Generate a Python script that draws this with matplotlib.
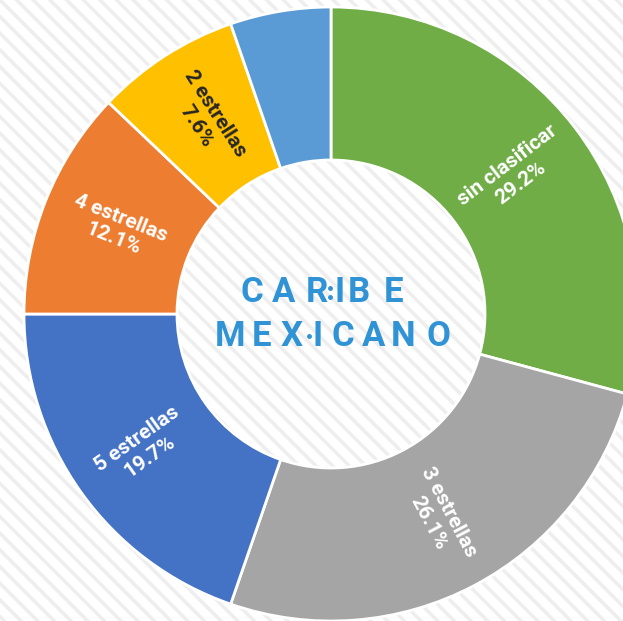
import numpy as np
import matplotlib
matplotlib.use("Agg")
import matplotlib.pyplot as plt
from matplotlib.patches import Rectangle

# datos del grafico
categories = ["sin clasificar", "3 estrellas", "5 estrellas", "4 estrellas", "2 estrellas", "1 estrella"]
shares = [29.2, 26.1, 19.7, 12.1, 7.6, 5.3]
colors = ["#70AD47", "#A5A5A5", "#4472C4", "#ED7D31", "#FFC000", "#5B9BD5"]
text_colors = ["white", "white", "white", "white", "#262626", None]

W, H = 623, 621
cx, cy = 331, H - 314
R_out, R_in = 307, 154

plt.rcParams["hatch.linewidth"] = 2.5
fig = plt.figure(figsize=(W / 100, H / 100), dpi=100)
ax = fig.add_axes([0, 0, 1, 1])

# fondo rayado
ax.add_patch(Rectangle((0, 0), W, H, facecolor="white", edgecolor="#EEEEEE",
                       hatch="\\\\", lw=0, zorder=0))

ax.pie(shares, colors=colors, startangle=90, counterclock=False,
       radius=R_out, center=(cx, cy),
       wedgeprops=dict(width=R_out - R_in, edgecolor="white", linewidth=2))

# etiquetas radiales
total = sum(shares)
cum = 0
r_lab = (R_out + R_in) / 2
for cat, val, tc in zip(categories, shares, text_colors):
    mid = cum + val / 2
    cum += val
    if tc is None:
        continue
    ang = 90 - 360 * mid / total
    a = np.deg2rad(ang)
    x = cx + r_lab * np.cos(a)
    y = cy + r_lab * np.sin(a)
    rot = ang
    while rot > 90:
        rot -= 180
    while rot < -90:
        rot += 180
    ax.text(x, y, f"{cat}\n{val:.1f}%", rotation=rot, rotation_mode="anchor",
            ha="center", va="center", color=tc, fontsize=15,
            fontweight="bold", family="Roboto", linespacing=1.25, zorder=5)

# logo central
logo_blue = "#2F93D5"
row1 = list("CARIBE")
row1_x = [252, 284, 317, 340, 359, 394]
row2 = list("MEXICANO")
row2_x = [230, 262, 292, 318, 343, 374, 403, 438]
for ch, x in zip(row1, row1_x):
    ax.text(x, H - 292, ch, ha="center", va="center", color=logo_blue,
            fontsize=25, fontweight="bold", family="Roboto", zorder=5)
for ch, x in zip(row2, row2_x):
    ax.text(x, H - 336, ch, ha="center", va="center", color=logo_blue,
            fontsize=25, fontweight="bold", family="Roboto", zorder=5)
ax.plot([330, 330], [H - 288, H - 297], ls="none", marker="o", ms=2.5, color=logo_blue, zorder=5)
ax.plot([309], [H - 336], ls="none", marker="o", ms=2.5, color=logo_blue, zorder=5)

ax.set_xlim(0, W)
ax.set_ylim(0, H)
ax.axis("off")

fig.savefig("out.png", dpi=100)
